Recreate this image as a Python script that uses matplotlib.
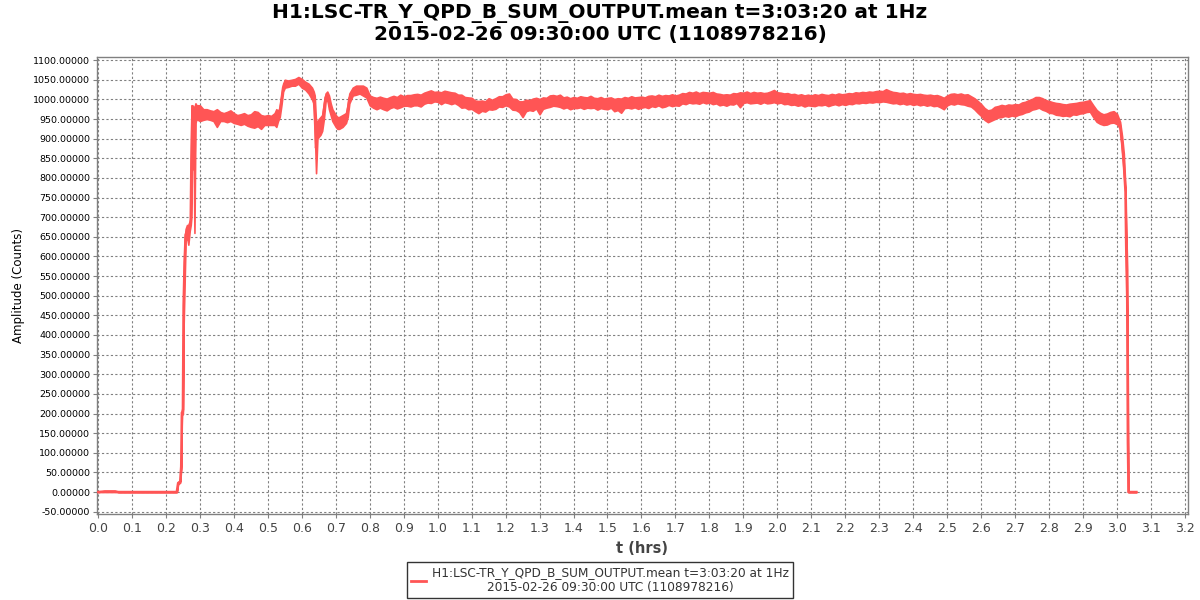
import matplotlib
matplotlib.use("Agg")
import matplotlib.pyplot as plt
from matplotlib.ticker import MultipleLocator, FormatStrFormatter
from matplotlib.lines import Line2D

TITLE = "H1:LSC-TR_Y_QPD_B_SUM_OUTPUT.mean t=3:03:20 at 1Hz\n2015-02-26 09:30:00 UTC (1108978216)"
XLABEL = "t (hrs)"
YLABEL = "Amplitude (Counts)"

# time (hours), lower and upper envelope of the noisy signal band (counts)
t_hrs = [0.000, 0.020, 0.050, 0.060, 0.232, 0.236, 0.242, 0.245, 0.247, 0.250,
         0.252, 0.255, 0.258, 0.262, 0.266, 0.270, 0.273, 0.275, 0.278, 0.281,
         0.284, 0.287, 0.290, 0.300, 0.310, 0.320, 0.330, 0.340, 0.350, 0.360,
         0.370, 0.380, 0.390, 0.400, 0.410, 0.420, 0.430, 0.440, 0.450, 0.460,
         0.470, 0.480, 0.490, 0.500, 0.510, 0.520, 0.525, 0.530, 0.535, 0.540,
         0.545, 0.550, 0.560, 0.570, 0.580, 0.590, 0.600, 0.610, 0.620, 0.630,
         0.635, 0.638, 0.642, 0.646, 0.650, 0.655, 0.660, 0.665, 0.670, 0.675,
         0.680, 0.685, 0.690, 0.700, 0.705, 0.710, 0.720, 0.730, 0.735, 0.740,
         0.750, 0.760, 0.770, 0.780, 0.790,
         0.80, 0.81, 0.82, 0.83, 0.84, 0.85, 0.86, 0.87, 0.88, 0.89,
         0.90, 0.91, 0.92, 0.93, 0.94, 0.95, 0.96, 0.97, 0.98, 0.99,
         1.00, 1.01, 1.02, 1.03, 1.04, 1.05, 1.06, 1.07, 1.08, 1.09,
         1.10, 1.11, 1.12, 1.13, 1.14, 1.15, 1.16, 1.17, 1.18, 1.19,
         1.20, 1.21, 1.22, 1.23, 1.24, 1.25, 1.26, 1.27, 1.28, 1.29,
         1.30, 1.31, 1.32, 1.33, 1.34, 1.35, 1.36, 1.37, 1.38, 1.39,
         1.40, 1.41, 1.42, 1.43, 1.44, 1.45, 1.46, 1.47, 1.48, 1.49,
         1.50, 1.51, 1.52, 1.53, 1.54, 1.55, 1.56, 1.57, 1.58, 1.59,
         1.60, 1.61, 1.62, 1.63, 1.64, 1.65, 1.66, 1.67, 1.68, 1.69,
         1.70, 1.71, 1.72, 1.73, 1.74, 1.75, 1.76, 1.77, 1.78, 1.79,
         1.80, 1.81, 1.82, 1.83, 1.84, 1.85, 1.86, 1.87, 1.88, 1.89,
         1.90, 1.91, 1.92, 1.93, 1.94, 1.95, 1.96, 1.97, 1.98, 1.99,
         2.00, 2.01, 2.02, 2.03, 2.04, 2.05, 2.06, 2.07, 2.08, 2.09,
         2.10, 2.11, 2.12, 2.13, 2.14, 2.15, 2.16, 2.17, 2.18, 2.19,
         2.20, 2.21, 2.22, 2.23, 2.24, 2.25, 2.26, 2.27, 2.28, 2.29,
         2.30, 2.31, 2.32, 2.33, 2.34, 2.35, 2.36, 2.37, 2.38, 2.39,
         2.40, 2.41, 2.42, 2.43, 2.44, 2.45, 2.46, 2.47, 2.48, 2.49,
         2.50, 2.51, 2.52, 2.53, 2.54, 2.55, 2.56, 2.57, 2.58, 2.59,
         2.60, 2.61, 2.62, 2.63, 2.64, 2.65, 2.66, 2.67, 2.68, 2.69,
         2.70, 2.71, 2.72, 2.73, 2.74, 2.75, 2.76, 2.77, 2.78, 2.79,
         2.80, 2.81, 2.82, 2.83, 2.84, 2.85, 2.86, 2.87, 2.88, 2.89,
         2.90, 2.91, 2.92, 2.93, 2.94, 2.95, 2.96, 2.97, 2.98, 2.99,
         3.000, 3.009, 3.015, 3.020, 3.025, 3.027, 3.030, 3.032, 3.034, 3.057]
band_lo = [0, 0, 0, 0, 0, 20, 24, 60, 195, 200,
           420, 530, 640, 650, 630, 665, 680, 700, 960, 940,
           660, 940, 950, 945, 948, 950, 948, 945, 930, 945,
           945, 942, 945, 940, 938, 935, 938, 933, 930, 928,
           932, 925, 935, 935, 935, 935, 930, 945, 955, 985,
           1020, 1030, 1032, 1035, 1035, 1040, 1030, 1025, 1015, 1000,
           990, 930, 812, 900, 905, 910, 920, 950, 995, 1000,
           975, 960, 945, 930, 925, 925, 930, 940, 955, 990,
           1010, 1012, 1015, 1010, 1005,
           985, 979, 975, 979, 975, 972, 978, 981, 977, 980,
           984, 984, 982, 985, 985, 982, 989, 992, 991, 995,
           994, 988, 993, 991, 988, 991, 986, 979, 980, 975,
           976, 970, 965, 971, 969, 975, 974, 976, 982, 981,
           985, 982, 974, 973, 968, 955, 970, 973, 971, 977,
           962, 976, 979, 981, 984, 983, 981, 977, 980, 975,
           978, 978, 980, 976, 979, 978, 979, 974, 978, 976,
           975, 979, 970, 973, 966, 978, 979, 977, 980, 976,
           979, 981, 978, 983, 981, 985, 980, 982, 986, 983,
           985, 984, 990, 988, 992, 990, 991, 989, 993, 990,
           992, 988, 990, 985, 987, 984, 988, 987, 991, 980,
           991, 993, 990, 991, 992, 989, 993, 990, 991, 993,
           990, 992, 988, 989, 986, 987, 984, 986, 982, 985,
           984, 983, 986, 985, 987, 983, 986, 988, 985, 988,
           986, 989, 988, 991, 990, 992, 991, 993, 992, 994,
           993, 995, 994, 992, 990, 991, 988, 990, 987, 989,
           986, 988, 985, 987, 984, 986, 983, 984, 980, 975,
           985, 989, 987, 990, 988, 987, 984, 982, 975, 966,
           958, 948, 942, 946, 950, 954, 955, 958, 956, 959,
           957, 961, 963, 967, 969, 974, 976, 979, 974, 971,
           966, 965, 961, 960, 958, 959, 957, 962, 961, 964,
           965, 968, 969, 955, 943, 938, 935, 936, 940, 941,
           937, 925, 870, 811, 760, 575, 420, 0, 0, 0]
band_hi = [0, 3, 3, 0, 0, 26, 28, 70, 210, 210,
           530, 640, 670, 680, 680, 690, 700, 985, 985, 980,
           980, 990, 985, 985, 975, 975, 972, 970, 975, 968,
           965, 968, 972, 965, 960, 962, 965, 960, 962, 970,
           968, 960, 958, 960, 958, 965, 975, 970, 980, 1010,
           1040, 1050, 1048, 1050, 1052, 1057, 1052, 1045, 1040, 1030,
           1020, 1010, 940, 945, 950, 955, 960, 990, 1015, 1020,
           1010, 990, 975, 960, 955, 955, 960, 965, 985, 1015,
           1030, 1035, 1035, 1035, 1030,
           1010, 1006, 1004, 1007, 1004, 1002, 1006, 1009, 1006, 1012,
           1008, 1011, 1011, 1013, 1014, 1012, 1017, 1020, 1023, 1019,
           1020, 1018, 1022, 1020, 1018, 1017, 1012, 1012, 1006, 1005,
           1004, 997, 996, 997, 995, 1003, 999, 1003, 1008, 1008,
           1013, 1015, 1002, 1001, 995, 995, 999, 998, 1002, 1004,
           1001, 1005, 1004, 1010, 1011, 1009, 1012, 1005, 1007, 1003,
           1006, 1004, 1008, 1006, 1005, 1009, 1004, 1003, 1006, 1002,
           1004, 1005, 1001, 1003, 1002, 1006, 1004, 1008, 1005, 1006,
           1007, 1005, 1009, 1010, 1008, 1012, 1009, 1011, 1010, 1013,
           1010, 1012, 1016, 1015, 1019, 1017, 1020, 1016, 1019, 1018,
           1017, 1019, 1015, 1014, 1012, 1013, 1012, 1016, 1015, 1018,
           1017, 1020, 1016, 1019, 1017, 1018, 1016, 1017, 1020, 1024,
           1018, 1017, 1015, 1016, 1013, 1014, 1011, 1013, 1010, 1012,
           1010, 1013, 1011, 1014, 1012, 1011, 1014, 1012, 1015, 1013,
           1014, 1016, 1015, 1018, 1017, 1019, 1018, 1020, 1019, 1021,
           1022, 1021, 1026, 1022, 1019, 1018, 1016, 1017, 1014, 1016,
           1014, 1013, 1014, 1012, 1011, 1012, 1010, 1011, 1008, 1004,
           1010, 1014, 1015, 1013, 1015, 1012, 1013, 1008, 1003, 996,
           988, 978, 972, 974, 981, 983, 986, 984, 987, 986,
           988, 987, 992, 994, 998, 1001, 1006, 1006, 1003, 998,
           996, 993, 991, 990, 988, 987, 989, 990, 991, 993,
           994, 996, 998, 985, 973, 966, 962, 964, 968, 970,
           963, 943, 905, 862, 770, 675, 567, 252, 0, 0]

LINE_COLOR = "#ff5555"

fig = plt.figure(figsize=(12, 6), dpi=100)
ax = fig.add_axes([0.0808, 0.1433, 0.9092, 0.7617])

mid = [(a + b) / 2 for a, b in zip(band_lo, band_hi)]
ax.fill_between(t_hrs, band_lo, band_hi, color=LINE_COLOR, lw=1.2, edgecolor=LINE_COLOR, zorder=3)
ax.plot(t_hrs, mid, color=LINE_COLOR, lw=1.8, zorder=3)

ax.set_xlim(-0.003, 3.209)
ax.set_ylim(-56, 1108)
ax.xaxis.set_major_locator(MultipleLocator(0.1))
ax.xaxis.set_major_formatter(FormatStrFormatter("%.1f"))
ax.yaxis.set_major_locator(MultipleLocator(50))
ax.yaxis.set_major_formatter(FormatStrFormatter("%.5f"))
ax.grid(True, color="#808080", lw=0.8, linestyle=(0, (2, 2)), zorder=1)
ax.set_axisbelow(True)

for s in ax.spines.values():
    s.set_color("#808080")
    s.set_linewidth(1.0)

ax.tick_params(axis="x", labelsize=9, labelcolor="#444444", color="#808080", length=3, pad=3)
ax.tick_params(axis="y", labelsize=6.8, labelcolor="black", color="#808080", length=3, pad=2)

ax.set_xlabel(XLABEL, fontsize=10.5, fontweight="bold", color="#444444", labelpad=4)
ax.set_ylabel(YLABEL, fontsize=8.5, color="black", labelpad=6)

fig.text(0.5, 0.96, TITLE, ha="center", va="center", fontsize=14.5,
         fontweight="bold", linespacing=1.1)

handle = Line2D([0], [0], color=LINE_COLOR, lw=2)
leg = fig.legend([handle], [TITLE], loc="center", bbox_to_anchor=(0.5, 1 - 580 / 600),
                 fontsize=8.7, frameon=True, fancybox=False, borderpad=0.35,
                 handlelength=1.2, handletextpad=0.5, borderaxespad=0)
leg.get_frame().set_edgecolor("black")
leg.get_frame().set_linewidth(1.0)
for txt in leg.get_texts():
    txt.set_multialignment("center")
    txt.set_color("#333333")

fig.savefig("out.png", dpi=100)
